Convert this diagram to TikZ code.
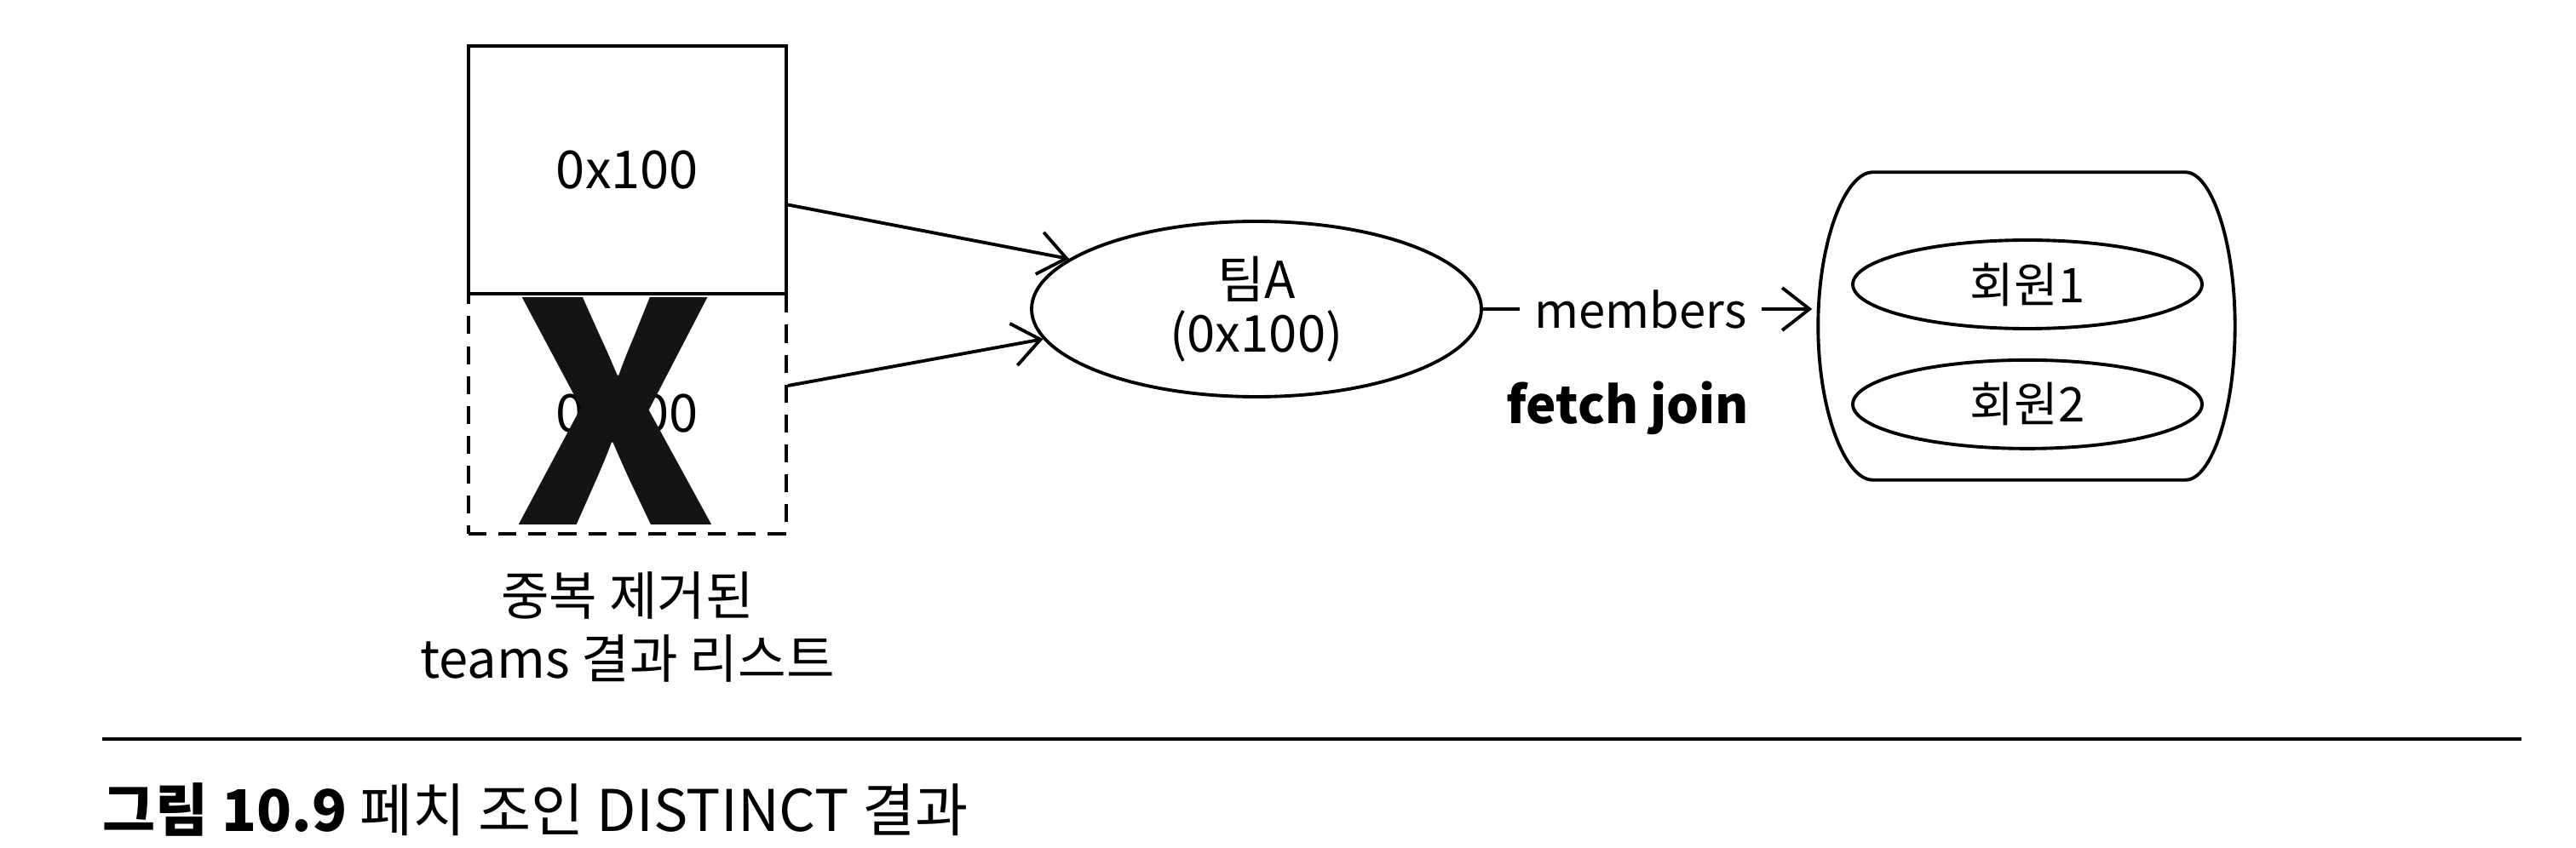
\documentclass[tikz,border=0pt]{standalone}
\usepackage{fontspec}
\setmainfont{Noto Sans CJK KR}
\usetikzlibrary{positioning,arrows.meta,shapes.geometric}

\begin{document}
\begin{tikzpicture}[
    txt/.style={font=\fontsize{16}{19}\selectfont},
    bigtxt/.style={font=\fontsize{17.5}{21}\selectfont},
    slotbox/.style={draw,line width=1.1pt,minimum width=3.73cm,inner sep=0pt,bigtxt},
    oval/.style={draw,ellipse,line width=1.1pt,inner sep=0pt,txt},
    arr/.style={line width=1.1pt,-{Straight Barb[length=3.2mm,width=5mm]}}
  ]
    \useasboundingbox (0,0) rectangle (30.24,-9.96);

    \node[slotbox,minimum height=2.91cm] (slot1) at (7.365,-1.995) {0x100};
    \node[slotbox,minimum height=2.82cm,dash pattern=on 6pt off 4pt]
      (slot2) at (7.365,-4.86) {0x100};
    \node[text=black!92,font=\fontsize{102}{102}\selectfont\bfseries,inner sep=0pt]
      (cross) at (7.22,-4.83) {X};
    \node[bigtxt,align=center,below=0.3cm of slot2] (slotlbl) {중복 제거된\\teams 결과 리스트};

    \node[oval,font=\fontsize{17}{18}\selectfont,minimum width=5.28cm,minimum height=2.06cm,align=center]
      (team) at (14.75,-3.63) {팀A\\(0x100)};

    \node[minimum width=4.88cm,minimum height=3.6cm,inner sep=0pt] (mbox) at (23.79,-3.83) {};
    \draw[line width=1.1pt]
      ([xshift=0.64cm]mbox.north west) -- ([xshift=-0.58cm]mbox.north east)
      .. controls +(0.3,0) and ([yshift=1.0cm]mbox.east) .. (mbox.east)
      .. controls ([yshift=-1.0cm]mbox.east) and +(0.3,0) .. ([xshift=-0.58cm]mbox.south east)
      -- ([xshift=0.64cm]mbox.south west)
      .. controls +(-0.32,0) and ([yshift=-1.0cm]mbox.west) .. (mbox.west)
      .. controls ([yshift=1.0cm]mbox.west) and +(-0.32,0) .. ([xshift=0.64cm]mbox.north west)
      -- cycle;
    \node[oval,minimum width=4.1cm,minimum height=1.04cm] (m1) at (23.8,-3.34) {회원1};
    \node[oval,minimum width=4.1cm,minimum height=1.04cm,below=0.33cm of m1] (m2) {회원2};

    \draw[arr] ([yshift=-0.41cm]slot1.east) -- (team.165);
    \draw[arr] ([yshift=0.33cm]slot2.east) -- (team.188);
    \draw[arr,shorten >=2pt] (team.east) -- node[txt,fill=white,pos=0.47,inner sep=5pt] (lbl) {members}
      (team.east -| mbox.west);
    \node[font=\fontsize{17}{20}\selectfont\bfseries,below=0.3cm of lbl,xshift=-0.15cm] (fetch) {fetch join};

    \draw[line width=0.9pt] (1.2,-8.68) -- (29.6,-8.68);
    \node[anchor=west,font=\fontsize{19.2}{22}\selectfont,inner sep=0pt] (cap) at (1.2,-9.51)
      {\textbf{그림 10.9} 페치 조인 DISTINCT 결과};
\end{tikzpicture}
\end{document}
